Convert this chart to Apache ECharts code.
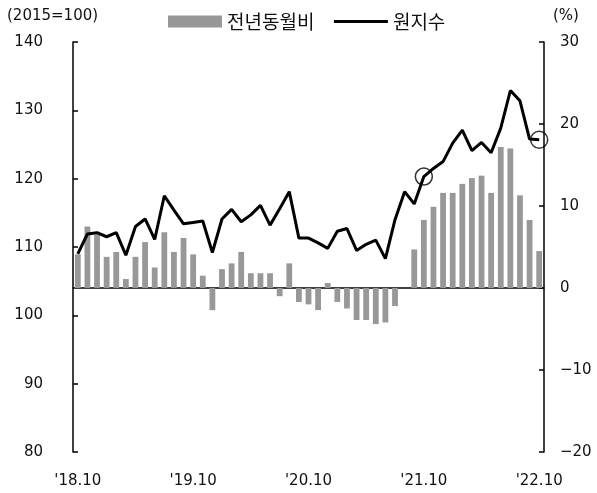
<!DOCTYPE html>
<html>
<head>
<meta charset="utf-8">
<script src="https://cdn.jsdelivr.net/npm/echarts@6/dist/echarts.min.js"></script>
<style>
  html, body { margin: 0; padding: 0; background: #fff; }
  #chart { width: 597px; height: 493px; }
</style>
</head>
<body>
<div id="chart"></div>
<script>
// 월별 (2018.10 ~ 2022.10)
var months = [
  "'18.10", "'18.11", "'18.12", "'19.1", "'19.2", "'19.3", "'19.4", "'19.5", "'19.6", "'19.7", "'19.8", "'19.9",
  "'19.10", "'19.11", "'19.12", "'20.1", "'20.2", "'20.3", "'20.4", "'20.5", "'20.6", "'20.7", "'20.8", "'20.9",
  "'20.10", "'20.11", "'20.12", "'21.1", "'21.2", "'21.3", "'21.4", "'21.5", "'21.6", "'21.7", "'21.8", "'21.9",
  "'21.10", "'21.11", "'21.12", "'22.1", "'22.2", "'22.3", "'22.4", "'22.5", "'22.6", "'22.7", "'22.8", "'22.9",
  "'22.10"
];
// 원지수 (2015=100, 좌축)
var indexValues = [
  109.0, 111.9, 112.1, 111.5, 112.1, 108.8, 113.0, 114.1, 111.1, 117.5, 115.4, 113.4,
  113.6, 113.8, 109.2, 114.1, 115.5, 113.7, 114.7, 116.1, 113.2, 115.6, 118.1, 111.3,
  111.3, 110.6, 109.8, 112.3, 112.7, 109.5, 110.4, 111.0, 108.3, 114.0, 118.1, 116.3,
  120.3, 121.5, 122.5, 125.2, 127.1, 124.1, 125.3, 123.8, 127.4, 132.9, 131.4, 125.8,
  125.7
];
// 전년동월비 (%, 우축)
var yoyValues = [
  4.1, 7.5, 6.5, 3.8, 4.4, 1.1, 3.8, 5.6, 2.5, 6.8, 4.4, 6.1,
  4.1, 1.5, -2.7, 2.3, 3.0, 4.4, 1.8, 1.8, 1.8, -1.0, 3.0, -1.7,
  -2.0, -2.7, 0.6, -1.7, -2.5, -3.9, -3.9, -4.4, -4.2, -2.2, 0, 4.7,
  8.3, 9.9, 11.6, 11.6, 12.7, 13.4, 13.7, 11.6, 17.2, 17.0, 11.3, 8.3,
  4.5
];
// 동그라미 표시 (21.10, 22.10)
var circled = [36, 48];

var font = 'DejaVu Sans';
var krFont = 'Noto Sans CJK KR';
var chart = echarts.init(document.getElementById('chart'));

chart.setOption({
  animation: false,
  grid: { left: 73, right: 53, top: 42, bottom: 41 },
  legend: {
    left: 163,
    top: 7,
    itemWidth: 54,
    itemHeight: 12,
    itemGap: 18,
    textStyle: { fontFamily: krFont, fontSize: 19, color: '#111' },
    data: [
      { name: '전년동월비', icon: 'rect' },
      { name: '원지수', itemStyle: { opacity: 0 }, lineStyle: { width: 3, color: '#000' } }
    ]
  },
  graphic: [
    { type: 'text', left: 7, top: 9,
      style: { text: '(2015=100)', font: '15px "DejaVu Sans"', fill: '#111' } },
    { type: 'text', left: 553, top: 9,
      style: { text: '(%)', font: '15px "DejaVu Sans"', fill: '#111' } }
  ],
  xAxis: {
    type: 'category',
    data: months,
    boundaryGap: true,
    axisLine: { lineStyle: { color: '#000', width: 1.5 } },
    axisTick: {
      inside: true, length: 5,
      interval: function (i) { return i % 12 === 0; },
      lineStyle: { color: '#000', width: 1.5 }
    },
    axisLabel: {
      interval: function (i) { return i % 12 === 0; },
      margin: 22,
      fontFamily: font, fontSize: 15, color: '#111'
    },
    splitLine: { show: false }
  },
  yAxis: [
    {
      type: 'value', min: 80, max: 140, interval: 10,
      axisLine: { show: true, lineStyle: { color: '#000', width: 1.5 } },
      axisTick: { show: true, inside: true, length: 5, lineStyle: { color: '#000', width: 1.5 } },
      axisLabel: { margin: 30, fontFamily: font, fontSize: 15, color: '#111' },
      splitLine: { show: false }
    },
    {
      type: 'value', min: -20, max: 30, interval: 10,
      axisLine: { show: true, lineStyle: { color: '#000', width: 1.5 } },
      axisTick: { show: true, inside: true, length: 5, lineStyle: { color: '#000', width: 1.5 } },
      axisLabel: {
        margin: 16, fontFamily: font, fontSize: 15, color: '#111',
        formatter: function (v) { return String(v).replace('-', '\u2212'); }
      },
      splitLine: { show: false }
    }
  ],
  series: [
    {
      name: '전년동월비',
      type: 'bar',
      yAxisIndex: 1,
      data: yoyValues,
      barWidth: 5.8,
      itemStyle: { color: '#989898' }
    },
    {
      name: '원지수',
      type: 'line',
      yAxisIndex: 0,
      data: indexValues,
      symbol: 'none',
      z: 3,
      lineStyle: { color: '#000', width: 3 },
      itemStyle: { color: '#000' }
    },
    {
      name: 'circle',
      type: 'scatter',
      yAxisIndex: 0,
      z: 4,
      symbolSize: 17,
      data: circled.map(function (i) { return [i, indexValues[i]]; }),
      itemStyle: { color: 'rgba(0,0,0,0)', borderColor: '#000', borderWidth: 1.5 }
    }
  ]
});
</script>
</body>
</html>
